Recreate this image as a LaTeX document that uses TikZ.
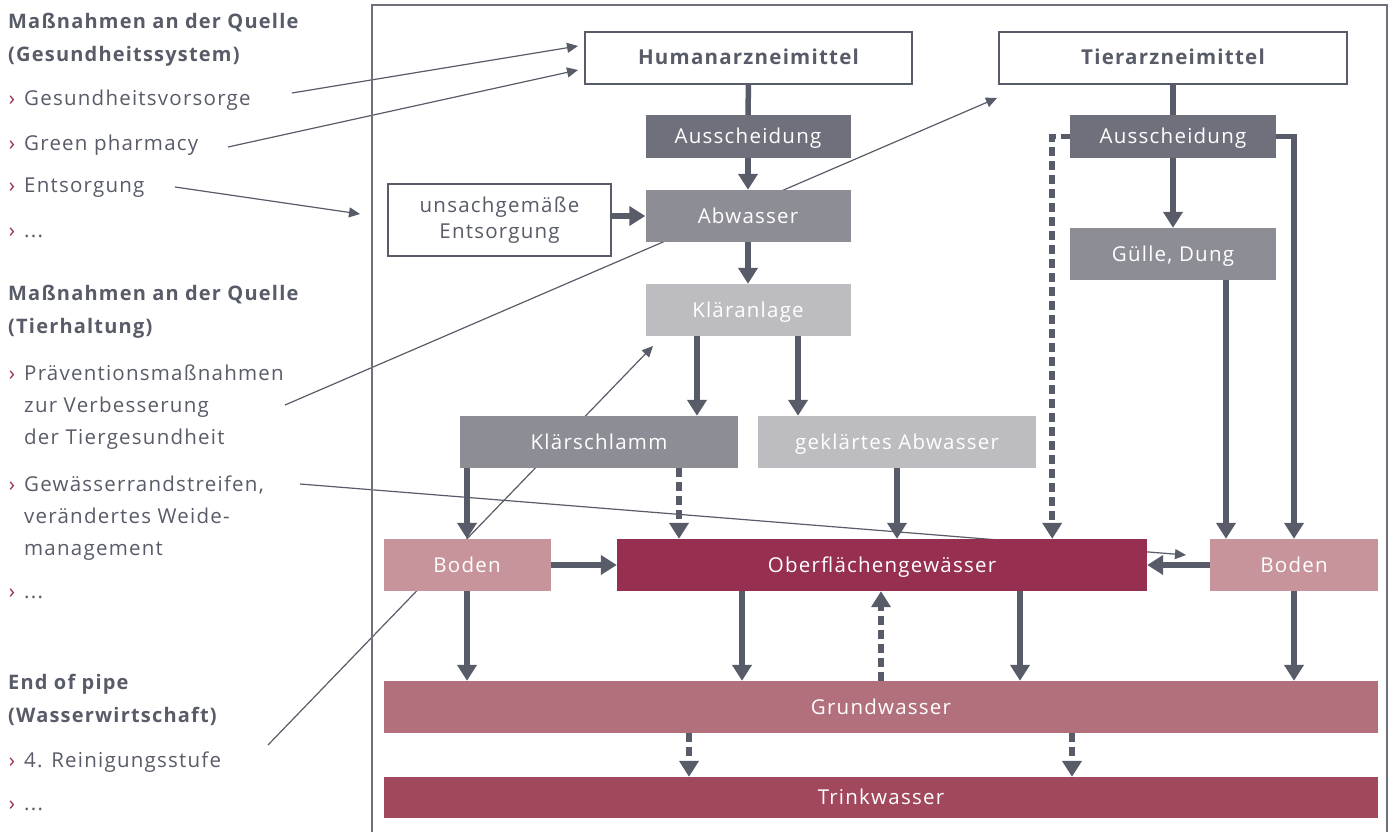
\documentclass[tikz,border=0pt]{standalone}
\usepackage{fontspec}
\setmainfont{Open Sans}[LetterSpace=6]
\usetikzlibrary{arrows.meta,calc,backgrounds}

\definecolor{ink}{RGB}{88,91,104}
\definecolor{cdark}{RGB}{110,112,123}
\definecolor{cmid}{RGB}{141,141,150}
\definecolor{clight}{RGB}{189,188,193}
\definecolor{cboden}{RGB}{200,148,155}
\definecolor{cober}{RGB}{150,47,80}
\definecolor{cgrund}{RGB}{178,112,124}
\definecolor{ctrink}{RGB}{161,72,93}

\newcommand{\bul}{\llap{\textcolor{cober}{›}\hspace{9pt}}}

\tikzset{
  box/.style={minimum height=52pt, inner sep=0pt, text=white,
    text height=14pt, text depth=0pt, font=\fontsize{20.5}{24}\selectfont},
  whitebox/.style={box, fill=white, draw=ink, line width=1.6pt, text=ink,
    font=\fontsize{20.5}{24}\selectfont\bfseries},
  pipe/.style={line width=5.5pt, draw=ink},
  flow/.style={pipe, -{Triangle[width=19pt,length=16pt]}},
  maybe/.style={flow, dash pattern=on 9pt off 5pt},
  hint/.style={line width=1.2pt, draw=ink, -{Triangle[width=10pt,length=11pt]}},
  head/.style={anchor=base west, inner sep=0pt, text=ink, align=left,
    font=\fontsize{20}{33}\selectfont\bfseries},
  item/.style={anchor=base west, inner sep=0pt, text=ink, align=left,
    font=\fontsize{20.5}{32}\selectfont},
}

\begin{document}
\begin{tikzpicture}[x=1pt,y=-1pt]
\useasboundingbox (0,0) rectangle (1392,832);
\draw[cdark, line width=1.8pt] (372,5) rectangle (1387,860);

% left column, anchored at the baseline of the last line
\node[head] (q1) at (8,62) {Maßnahmen an der Quelle\\(Gesundheitssystem)};
\node[item] (vors) at (24,106) {\bul Gesundheitsvorsorge};
\node[item] (green) at (24,150) {\bul Green pharmacy};
\node[item] (entsg) at (24,193) {\bul Entsorgung};
\node[item] (etc1) at (24,237) {\bul ...};
\node[head] (q2) at (8,333) {Maßnahmen an der Quelle\\(Tierhaltung)};
\node[item] (praev) at (24,444) {\bul Präventionsmaßnahmen\\zur Verbesserung\\der Tiergesundheit};
\node[item] (rand) at (24,555) {\bul Gewässerrandstreifen,\\verändertes Weide-\\management};
\node[item] (etc2) at (24,598) {\bul ...};
\node[head] (q3) at (8,722) {End of pipe\\(Wasserwirtschaft)};
\node[item] (stufe) at (24,767) {\bul 4. Reinigungsstufe};
\node[item] (etc3) at (24,810) {\bul ...};

\node[whitebox, minimum width=327pt] (hum) at (748.5,58) {Humanarzneimittel};
\node[whitebox, minimum width=348pt] (tier) at (1173,58) {Tierarzneimittel};
\node[box, fill=cdark, minimum width=205pt, minimum height=43pt] (aush) at (748,136.5) {Ausscheidung};
\node[box, fill=cmid, minimum width=205pt] (abw) at (748,216) {Abwasser};
\node[whitebox, minimum width=223pt, minimum height=72pt, align=center,
  text height=, text depth=, font=\fontsize{20.5}{26}\selectfont] (unsach) at (499.5,220) {unsachgemäße\\Entsorgung};
\node[box, fill=clight, minimum width=205pt] (klaer) at (748,310) {Kläranlage};
\node[box, fill=cmid, minimum width=278pt] (schlamm) at (599,442) {Klärschlamm};
\node[box, fill=clight, minimum width=278pt] (geklaert) at (897,442) {geklärtes Abwasser};
\node[box, fill=cdark, minimum width=206pt, minimum height=43pt] (aust) at (1173,136.5) {Ausscheidung};
\node[box, fill=cmid, minimum width=206pt] (guelle) at (1173,254) {Gülle, Dung};
\node[box, fill=cboden, minimum width=167pt] (boden1) at (467,565) {Boden};
\node[box, fill=cober, minimum width=530pt] (ober) at (882,565) {Oberflächengewässer};
\node[box, fill=cboden, minimum width=168pt] (boden2) at (1294,565) {Boden};
\node[box, fill=cgrund, minimum width=994pt] (grund) at (881,707) {Grundwasser};
\node[box, fill=ctrink, minimum width=994pt, minimum height=41pt] (trink) at (881,797.5) {Trinkwasser};

\draw[pipe] (hum) -- (aush);
\draw[flow] (aush) -- (abw);
\draw[flow] (unsach.east |- abw) -- (abw.west);
\draw[flow] (abw) -- (klaer);
\draw[flow] ($(klaer.south)+(-51,0)$) -- ($(schlamm.north)+(98,0)$);
\draw[flow] ($(klaer.south)+(50,0)$) -- ($(geklaert.north)+(-99,0)$);
\draw[flow] ($(schlamm.south)+(-132,0)$) -- (boden1.north);
\draw[maybe] ($(schlamm.south)+(80,0)$) -- ($(ober.north)+(-203,0)$);
\draw[flow] (geklaert.south) -- ($(ober.north)+(15,0)$);
\draw[flow] (boden1.east) -- (ober.west);
\draw[flow] (boden2.west) -- (ober.east);

\draw[pipe] (tier) -- (aust);
\draw[flow] (aust) -- (guelle);
\draw[maybe] (aust.west) -| ($(ober.north east)+(-95,0)$);
\draw[flow] (aust.east) -| (boden2.north);
\draw[flow] ($(guelle.south)+(53,0)$) -- ($(boden2.north)+(-68,0)$);

\draw[flow] (boden1.south) -- ($(grund.north)+(-414,0)$);
\draw[flow] ($(ober.south)+(-140,0)$) -- ($(grund.north)+(-139,0)$);
\draw[flow] ($(ober.south)+(138,0)$) -- ($(grund.north)+(139,0)$);
\draw[maybe] (grund.north) -- ($(ober.south)+(-1,0)$);
\draw[flow] (boden2.south) -- ($(grund.north)+(413,0)$);
\draw[maybe] ($(grund.south)+(-192,0)$) -- ($(trink.north)+(-192,0)$);
\draw[maybe] ($(grund.south)+(191,0)$) -- ($(trink.north)+(191,0)$);

% thin pointers from the measures
\coordinate (s1) at (292,93);
\coordinate (s2) at (228,147);
\coordinate (s3) at (175,187);
\coordinate (s4) at (285,405);
\coordinate (s5) at (300,484);
\coordinate (s6) at (268,745);
\coordinate (t1) at (578,46);
\coordinate (t2) at (578,70);
\coordinate (t3) at (360,214);
\coordinate (t4) at (997,98);
\coordinate (t5) at (1186,555);
\coordinate (t6) at (653,346);
\begin{scope}[on background layer]
\foreach \i in {1,...,6}
  \draw[hint] (s\i) -- (t\i);
\end{scope}
\end{tikzpicture}
\end{document}
